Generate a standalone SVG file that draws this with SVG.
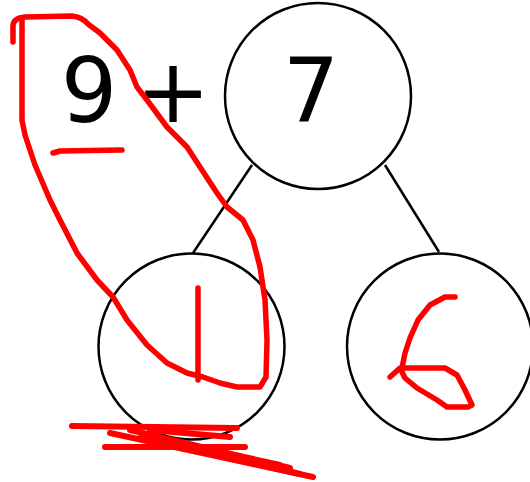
<svg xmlns="http://www.w3.org/2000/svg" width="530" height="482" viewBox="0 0 530 482">
<style>
.node{fill:#fff;stroke:#000;stroke-width:2.5}
.edge{stroke:#000;stroke-width:2.5;fill:none}
.num{font-family:"DejaVu Sans",sans-serif;font-size:89px;fill:#000}
.ink{fill:none;stroke:#f00;stroke-width:5.5;stroke-linecap:round;stroke-linejoin:round}
.scr{fill:none;stroke:#f00;stroke-width:6;stroke-linecap:round;stroke-linejoin:round}
</style>
<rect width="530" height="482" fill="#fff"/>
<g id="connectors">
<line class="edge" x1="252" y1="165" x2="193" y2="253"/>
<line class="edge" x1="385" y1="165" x2="439" y2="252"/>
</g>
<g id="top">
<circle class="node" cx="318" cy="96" r="93"/>
<text class="num" x="311" y="122" text-anchor="middle">7</text>
</g>
<g id="left">
<circle class="node" cx="191.5" cy="346.5" r="93"/>
</g>
<g id="right">
<circle class="node" cx="440" cy="346.5" r="93"/>
</g>
<g id="expr">
<text class="num" x="89" y="122" text-anchor="middle">9</text>
<text class="num" x="173" y="122" text-anchor="middle">+</text>
</g>
<g id="ink">
<path class="ink" d="M13 42 L13 25 Q14 18 25 17 L72 16 Q82 17 88 24 L100 33 L117 50 L130 70 L137 87 L147 100 L167 127 L187 147 L200 167 L217 193 L227 207 L243 220 L253 240 L260 267 L265 300 L267 340 L266 377 L260 387 L237 387 L220 383 L203 377 L187 373 L167 363 L147 345 L127 320 L113 297 L97 280 L77 253 L60 220 L50 200 L35 165 L25 135 L22 120 L22 20"/>
<path class="ink" d="M53 153 L60 151 L122 150"/>
<path class="ink" d="M198 288 L198 380"/>
<path class="ink" d="M455 297 L445 297 L430 305 L418 320 L410 338 L405 353 L402 368 L445 368 L457 375 L465 390 L472 405 L468 407 L447 407 L437 400 L417 388 L405 378 L400 368 L390 377"/>
<path class="scr" d="M72 426 L237 428"/>
<path class="scr" d="M110 433 L313 477"/>
<path class="scr" d="M105 447 L245 447"/>
<path class="scr" d="M130 430 L290 468 L140 438 L300 474 L150 436 L280 465 L170 441 L260 462"/>
<path class="scr" d="M150 430 L230 437"/>
</g>
</svg>
